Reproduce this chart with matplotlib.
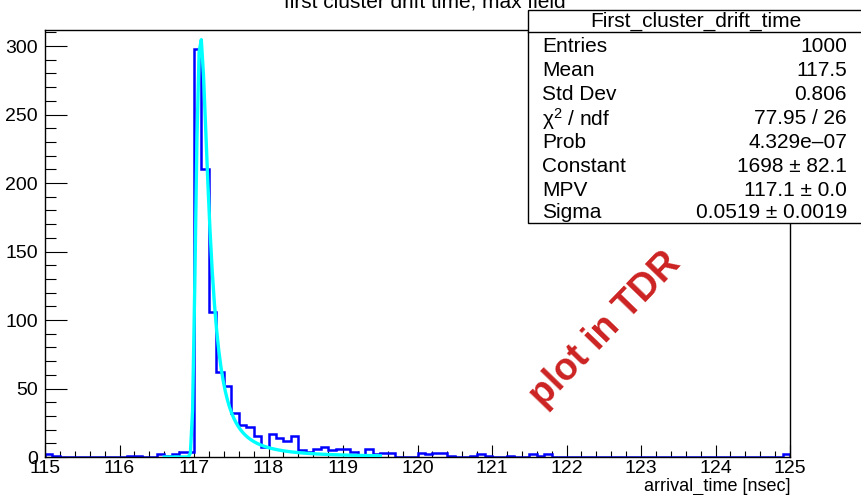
import numpy as np
import matplotlib

matplotlib.use("Agg")
import matplotlib.pyplot as plt
from matplotlib.patches import Rectangle
from matplotlib.lines import Line2D
from matplotlib.ticker import MultipleLocator

plt.rcParams["font.family"] = ["Liberation Sans", "DejaVu Sans"]
plt.rcParams["mathtext.fontset"] = "custom"
plt.rcParams["mathtext.rm"] = "Liberation Sans"
plt.rcParams["mathtext.it"] = "Liberation Sans:italic"

# histogram: 100 bins of 0.1 ns between 115 and 125
x_lo, x_hi, n_bins = 115.0, 125.0, 100
counts = np.zeros(n_bins)
# bin contents keyed by lower bin edge
bin_counts = {
    115.0: 2, 115.1: 1,
    116.1: 1, 116.2: 1, 116.5: 2, 116.6: 1, 116.7: 2, 116.8: 4, 116.9: 4,
    117.0: 298, 117.1: 210, 117.2: 106, 117.3: 62, 117.4: 52,
    117.5: 32, 117.6: 23, 117.7: 22, 117.8: 15, 117.9: 7,
    118.0: 17, 118.1: 14, 118.2: 12, 118.3: 15, 118.4: 5,
    118.5: 4, 118.6: 6, 118.7: 7, 118.8: 5, 118.9: 6,
    119.0: 6, 119.1: 4, 119.3: 6, 119.4: 2, 119.5: 3, 119.6: 3,
    120.0: 3, 120.1: 2, 120.2: 3, 120.3: 3, 120.4: 1,
    120.7: 1, 120.8: 2, 120.9: 1,
    121.2: 1, 121.5: 2, 121.6: 1, 121.7: 2,
    124.9: 2,
}
for lo, c in bin_counts.items():
    counts[int(round((lo - x_lo) * 10))] = c
edges = np.linspace(x_lo, x_hi, n_bins + 1)

# Landau fit result
fit_constant = 1698.0
fit_mpv = 117.1
fit_sigma = 0.0519
fit_range = (116.6, 119.5)

stat_labels = ["Entries", "Mean", "Std Dev", "\u03c7$^{2}$ / ndf", "Prob",
               "Constant", "MPV", "Sigma"]
stat_values = ["1000", "117.5", "0.806", "77.95 / 26", "4.329e\u201307",
               "1698 \u00b1 82.1", "117.1 \u00b1 0.0", "0.0519 \u00b1 0.0019"]


def landau(lam):
    # standard Landau density via the inverse Laplace integral along Re(s)=c
    y = np.linspace(-40, 40, 16001)
    out = np.empty_like(lam)
    for i, l in enumerate(lam):
        c = np.clip(np.exp(-1.0 - l), 0.05, 20.0)
        s = c + 1j * y
        f = np.exp(s * np.log(s) + l * s).real
        out[i] = np.trapezoid(f, y) / (2 * np.pi)
    return np.clip(out, 0, None)


W, H = 861, 495
fig = plt.figure(figsize=(W / 100, H / 100), dpi=100)
ax = fig.add_axes([45 / W, 1 - 457 / H, 745 / W, 427 / H])

ax.stairs(counts, edges, color="#0000ff", lw=1.8, zorder=2)

xf = np.linspace(*fit_range, 100)
yf = fit_constant * landau((xf - fit_mpv) / fit_sigma)
ax.plot(xf, yf, color="#00ffff", lw=2.4, zorder=3)

ax.set_xlim(x_lo, x_hi)
ax.set_ylim(0, 311.7)
ax.xaxis.set_major_locator(MultipleLocator(1))
ax.xaxis.set_minor_locator(MultipleLocator(0.2))
ax.yaxis.set_major_locator(MultipleLocator(50))
ax.yaxis.set_minor_locator(MultipleLocator(10))
ax.tick_params(axis="both", which="both", direction="in", top=False, right=False,
               labelsize=14, width=0.8, color="black")
ax.tick_params(axis="x", which="major", length=8.6, pad=2)
ax.tick_params(axis="x", which="minor", length=4.3)
ax.tick_params(axis="y", which="major", length=16, pad=5)
ax.tick_params(axis="y", which="minor", length=8)
for sp in ax.spines.values():
    sp.set_linewidth(1.0)

fig.text(790 / W, 1 - 486 / H, "arrival_time [nsec]", ha="right", va="center",
         fontsize=13)

# title, partly above the canvas edge
fig.text(425 / W, 1 - 7 / H, "first cluster drift time, max field", ha="center",
         va="baseline", fontsize=15)

# statistics box
box = Rectangle((528 / W, 1 - 223 / H), (W + 10 - 528) / W, 213 / H,
                transform=fig.transFigure, facecolor="white", edgecolor="black",
                lw=1.0, zorder=5, clip_on=False)
fig.add_artist(box)
fig.add_artist(Line2D([528 / W, 1.01], [1 - 32 / H, 1 - 32 / H],
                      transform=fig.transFigure, color="black", lw=1.0, zorder=6))
fig.text(696 / W, 1 - 21.5 / H, "First_cluster_drift_time", ha="center",
         va="center", fontsize=15, zorder=7)
row_y = [47, 71, 95, 119, 143, 166.5, 190, 213]
for lab, val, yy in zip(stat_labels, stat_values, row_y):
    fig.text(542 / W, 1 - yy / H, lab, ha="left", va="center", fontsize=15, zorder=7)
    fig.text(847 / W, 1 - yy / H, val, ha="right", va="center", fontsize=15, zorder=7)

# stamp
fig.text(605 / W, 1 - 330 / H, "plot in TDR", ha="center", va="center",
         rotation=46, rotation_mode="anchor", fontsize=27, fontweight="bold",
         color="#cc2222", zorder=8)

fig.savefig("out.png", dpi=100)
